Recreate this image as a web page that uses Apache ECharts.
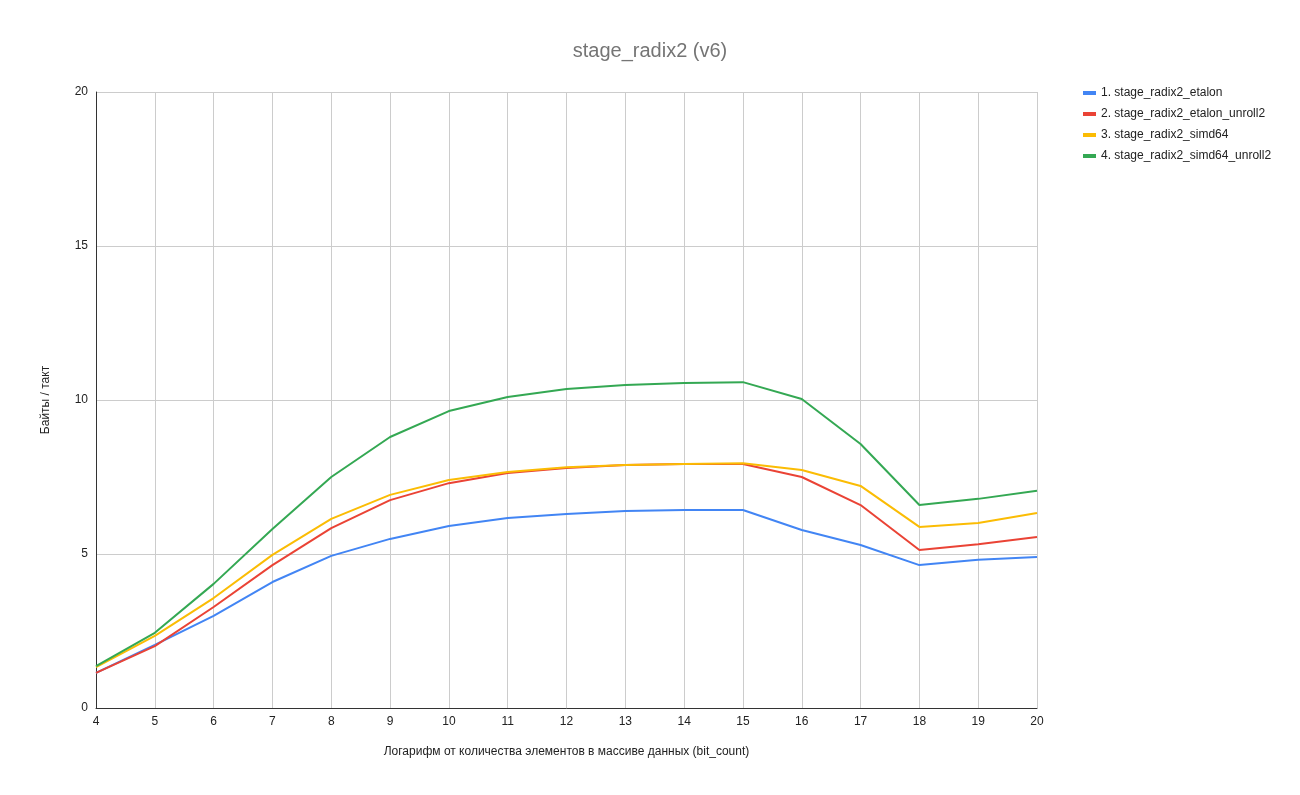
<!DOCTYPE html>
<html>
<head>
<meta charset="utf-8">
<script src="https://cdn.jsdelivr.net/npm/echarts@6/dist/echarts.min.js"></script>
<style>
  html, body { margin: 0; padding: 0; background: #fff; }
  #chart { width: 1300px; height: 795px; }
</style>
</head>
<body>
<div id="chart"></div>
<script>
const bitCounts = [4, 5, 6, 7, 8, 9, 10, 11, 12, 13, 14, 15, 16, 17, 18, 19, 20]
const seriesNames = [
  "1. stage_radix2_etalon",
  "2. stage_radix2_etalon_unroll2",
  "3. stage_radix2_simd64",
  "4. stage_radix2_simd64_unroll2"
]
const etalon = [1.14, 2.05, 2.99, 4.09, 4.94, 5.49, 5.91, 6.17, 6.30, 6.40, 6.43, 6.43, 5.78, 5.29, 4.64, 4.81, 4.90]
const etalonUnroll2 = [1.14, 2.01, 3.28, 4.64, 5.84, 6.75, 7.30, 7.63, 7.79, 7.89, 7.92, 7.92, 7.50, 6.59, 5.13, 5.32, 5.55]
const simd64 = [1.33, 2.34, 3.57, 4.97, 6.14, 6.92, 7.40, 7.66, 7.82, 7.89, 7.92, 7.95, 7.73, 7.21, 5.88, 6.01, 6.33]
const simd64Unroll2 = [1.36, 2.44, 4.03, 5.81, 7.50, 8.80, 9.64, 10.10, 10.36, 10.49, 10.55, 10.58, 10.03, 8.57, 6.59, 6.79, 7.05]
const colors = ["#4285f4", "#ea4335", "#fbbc04", "#34a853"]

const font = "Arial, 'Liberation Sans', sans-serif"
const chart = echarts.init(document.getElementById("chart"), null, { renderer: "canvas" })

const allValues = [etalon, etalonUnroll2, simd64, simd64Unroll2]
const series = allValues.map((vals, i) => ({
  name: seriesNames[i],
  type: "line",
  showSymbol: false,
  symbol: "none",
  lineStyle: { width: 2, color: colors[i] },
  itemStyle: { color: colors[i] },
  data: vals.map((v, j) => [bitCounts[j], v]),
  z: 2 + i
}))

chart.setOption({
  animation: false,
  backgroundColor: "#fff",
  title: {
    text: "stage_radix2 (v6)",
    left: "center",
    top: 36,
    textStyle: { color: "#757575", fontSize: 20, fontWeight: "normal", fontFamily: font }
  },
  legend: {
    orient: "vertical",
    left: 1078,
    top: 82,
    itemWidth: 13,
    itemHeight: 4,
    itemGap: 9,
    icon: "rect",
    textStyle: { color: "#222", fontSize: 12, fontFamily: font },
    data: seriesNames
  },
  grid: { left: 96, right: 263, top: 92, bottom: 87 },
  xAxis: {
    type: "value",
    min: 4,
    max: 20,
    interval: 1,
    name: "Логарифм от количества элементов в массиве данных (bit_count)",
    nameLocation: "middle",
    nameGap: 38,
    nameTextStyle: { color: "#222", fontSize: 12, fontFamily: font },
    axisLine: { show: true, lineStyle: { color: "#333", width: 1 } },
    axisTick: { show: false },
    axisLabel: { color: "#222", fontSize: 12, fontFamily: font, margin: 8 },
    splitLine: { show: true, lineStyle: { color: "#cccccc", width: 1 } }
  },
  yAxis: {
    type: "value",
    min: 0,
    max: 20,
    interval: 5,
    name: "Байты / такт",
    nameLocation: "middle",
    nameGap: 44,
    nameTextStyle: { color: "#222", fontSize: 12, fontFamily: font },
    axisLine: { show: true, lineStyle: { color: "#333", width: 1 } },
    axisTick: { show: false },
    axisLabel: { color: "#222", fontSize: 12, fontFamily: font, margin: 8 },
    splitLine: { show: true, lineStyle: { color: "#cccccc", width: 1 } }
  },
  series
})
</script>
</body>
</html>
